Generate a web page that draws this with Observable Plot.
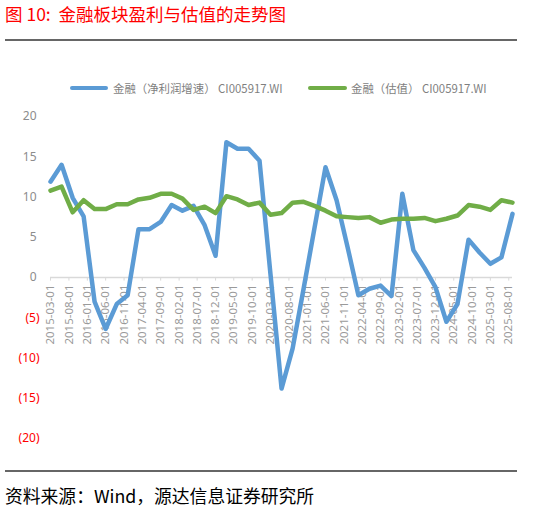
<!DOCTYPE html>
<html>
<head>
<meta charset="utf-8">
<script src="https://cdn.jsdelivr.net/npm/d3@7"></script>
<script src="https://cdn.jsdelivr.net/npm/@observablehq/plot@0.6"></script>
<style>
  html, body { margin: 0; padding: 0; background: #fff; }
  body { width: 538px; height: 511px; position: relative; overflow: hidden;
         font-family: "Noto Sans", "Noto Sans CJK SC", sans-serif; }
  #title { position: absolute; left: 5px; top: 2px; font-size: 17.5px; color: #ff0000;
           font-family: "Noto Sans CJK SC", sans-serif; white-space: pre; line-height: 24px; }
  #rule-top { position: absolute; left: 5px; top: 39px; width: 512px; height: 0; border-top: 2px solid #666; }
  #rule-bottom { position: absolute; left: 5px; top: 470px; width: 512px; height: 0; border-top: 2px solid #666; }
  #caption { position: absolute; left: 5px; top: 483px; font-size: 17.8px; color: #000;
             font-family: "Noto Sans CJK SC", sans-serif; white-space: nowrap; line-height: 24px; }
  .leg { position: absolute; top: 80px; font-size: 11.4px; color: #7f7f7f; white-space: nowrap;
         font-family: "Noto Sans CJK SC", sans-serif; line-height: 16px; }
  .sw { position: absolute; height: 4px; border-radius: 2px; top: 86px; }
  #chart { position: absolute; left: 0; top: 100px; }
</style>
</head>
<body>
<div id="title">图 10:  金融板块盈利与估值的走势图</div>
<div id="rule-top"></div>
<div class="sw" style="left:70px;width:38px;background:#5b9bd5"></div>
<div class="leg" style="left:113px">金融（净利润增速） CI005917.WI</div>
<div class="sw" style="left:308px;width:39px;background:#70ad47"></div>
<div class="leg" style="left:351px">金融（估值） CI005917.WI</div>
<div id="chart"></div>
<div id="rule-bottom"></div>
<div id="caption">资料来源：Wind，源达信息证券研究所</div>
<script>
// Quarterly observation dates
const dates = [
  "2015-03-01","2015-06-01","2015-09-01","2015-12-01",
  "2016-03-01","2016-06-01","2016-09-01","2016-12-01",
  "2017-03-01","2017-06-01","2017-09-01","2017-12-01",
  "2018-03-01","2018-06-01","2018-09-01","2018-12-01",
  "2019-03-01","2019-06-01","2019-09-01","2019-12-01",
  "2020-03-01","2020-06-01","2020-09-01","2020-12-01",
  "2021-03-01","2021-06-01","2021-09-01","2021-12-01",
  "2022-03-01","2022-06-01","2022-09-01","2022-12-01",
  "2023-03-01","2023-06-01","2023-09-01","2023-12-01",
  "2024-03-01","2024-06-01","2024-09-01","2024-12-01",
  "2025-03-01","2025-06-01","2025-09-01"
];
// 金融（净利润增速）
const profitGrowth = [
  11.9, 14.0, 9.9, 7.6,
  -3.0, -6.4, -3.3, -2.2,
  6.0, 6.0, 6.9, 9.0,
  8.3, 8.9, 6.5, 2.7,
  16.8, 16.0, 16.0, 14.5,
  0.4, -13.8, -8.8, -1.4,
  6.1, 13.7, 9.6, 3.8,
  -2.2, -1.4, -1.0, -2.3,
  10.4, 3.4, 1.2, -1.2,
  -5.5, -3.3, 4.7, 3.1,
  1.7, 2.5, 7.9
];
// 金融（估值）
const valuation = [
  10.8, 11.3, 8.1, 9.6,
  8.5, 8.5, 9.1, 9.1,
  9.7, 9.9, 10.4, 10.4,
  9.8, 8.4, 8.8, 8.0,
  10.1, 9.7, 9.0, 9.3,
  7.8, 8.0, 9.3, 9.4,
  8.9, 8.3, 7.6, 7.5,
  7.4, 7.5, 6.8, 7.2,
  7.3, 7.3, 7.4, 7.0,
  7.3, 7.7, 9.0, 8.8,
  8.4, 9.6, 9.3
];
const xTickLabels = [
  "2015-03-01","2015-08-01","2016-01-01","2016-06-01","2016-11-01",
  "2017-04-01","2017-09-01","2018-02-01","2018-07-01","2018-12-01",
  "2019-05-01","2019-10-01","2020-03-01","2020-08-01","2021-01-01",
  "2021-06-01","2021-11-01","2022-04-01","2022-09-01","2023-02-01",
  "2023-07-01","2023-12-01","2024-05-01","2024-10-01","2025-03-01",
  "2025-08-01"
];
const yTicks = [20, 15, 10, 5, 0, -5, -10, -15, -20];

const parse = d3.utcParse("%Y-%m-%d");
const profitData = dates.map((d, i) => ({date: parse(d), value: profitGrowth[i]}));
const valData = dates.map((d, i) => ({date: parse(d), value: valuation[i]}));
const xTicks = xTickLabels.map(parse);
const yFmt = d => d < 0 ? `(${-d})` : `${d}`;

const chart = Plot.plot({
  width: 538,
  height: 360,
  marginLeft: 50,
  marginRight: 26,
  marginTop: 16,
  marginBottom: 22,
  style: {fontFamily: "'Noto Sans', sans-serif", background: "transparent"},
  x: {type: "utc", domain: [parse(dates[0]), parse(dates[dates.length - 1])], axis: null},
  y: {domain: [-20, 20], axis: null},
  marks: [
    Plot.ruleY([0], {stroke: "#d9d9d9", strokeWidth: 1.5}),
    Plot.ruleX(xTicks, {x: d => d, y1: 0, y2: -0.45, stroke: "#d9d9d9", strokeWidth: 1}),
    Plot.text(xTicks, {x: d => d, y: 0, text: (d, i) => xTickLabels[i], rotate: -90,
      textAnchor: "end", dy: 7, fontSize: 11.5, fill: "#9a9a9a"}),
    Plot.text(yTicks.filter(d => d >= 0), {y: d => d, text: yFmt, frameAnchor: "left",
      textAnchor: "end", dx: -14, fontSize: 12, fill: "#8c8c8c"}),
    Plot.text(yTicks.filter(d => d < 0), {y: d => d, text: yFmt, frameAnchor: "left",
      textAnchor: "end", dx: -11, fontSize: 12, fill: "#ff0000"}),
    Plot.line(profitData, {x: "date", y: "value", stroke: "#5b9bd5", strokeWidth: 4.5,
      strokeLinejoin: "round", strokeLinecap: "round"}),
    Plot.line(valData, {x: "date", y: "value", stroke: "#70ad47", strokeWidth: 4.5,
      strokeLinejoin: "round", strokeLinecap: "round"})
  ]
});
document.getElementById("chart").appendChild(chart);
</script>
</body>
</html>
